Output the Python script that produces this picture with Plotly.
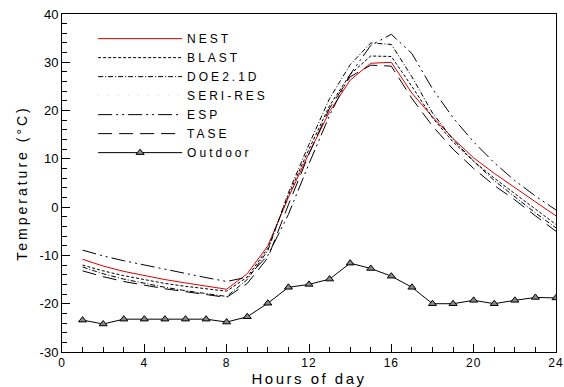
import plotly.graph_objects as go

hours = list(range(1, 25))
nest = [-10.8, -12.2, -13.3, -14.2, -15.0, -15.7, -16.4, -17.0, -13.8, -8.0, 2.0, 11.2,
        19.8, 26.3, 29.8, 30.0, 23.6, 18.7, 14.2, 10.2, 7.0, 4.0, 1.1, -1.8]
blast = [-12.0, -13.2, -14.2, -15.0, -15.8, -16.4, -16.9, -17.4, -14.5, -8.5, 2.5, 12.0,
         21.0, 27.5, 31.3, 31.2, 25.0, 18.5, 13.5, 9.5, 6.0, 2.8, -0.5, -3.6]
doe = [-12.4, -13.8, -14.9, -15.8, -16.6, -17.3, -17.9, -18.5, -15.0, -9.0, 3.0, 13.0,
       22.5, 29.5, 34.0, 33.7, 27.0, 19.5, 14.0, 9.5, 5.5, 2.2, -1.2, -4.3]
seri = [-12.8, -14.1, -15.2, -16.0, -16.8, -17.4, -18.0, -18.6, -15.3, -9.3, 2.0, 12.0,
        21.5, 28.5, 33.5, 33.5, 26.5, 19.5, 14.0, 9.5, 5.5, 2.0, -1.0, -4.0]
esp = [-8.9, -10.1, -11.1, -12.0, -12.9, -13.7, -14.6, -15.4, -14.5, -10.0, -1.5, 9.0,
       19.0, 27.5, 33.5, 35.8, 31.8, 24.5, 18.5, 13.5, 9.2, 5.5, 2.3, -0.6]
tase = [-13.2, -14.4, -15.4, -16.2, -16.9, -17.5, -18.1, -18.7, -15.8, -10.5, 0.5, 11.0,
        20.5, 27.0, 29.4, 29.2, 22.5, 16.8, 12.0, 8.0, 4.5, 1.5, -1.8, -5.0]
outdoor = [-23.4, -24.2, -23.2, -23.2, -23.2, -23.2, -23.2, -23.8, -22.7, -19.9, -16.6, -16.0,
           -14.9, -11.6, -12.7, -14.3, -16.6, -20.0, -20.0, -19.3, -20.0, -19.3, -18.7, -18.8]

x_ticks = [0, 4, 8, 12, 16, 20, 24]
y_ticks = [-30, -20, -10, 0, 10, 20, 30, 40]

series = [
    ("NEST", nest, dict(color="#e00000", width=1, dash="solid")),
    ("BLAST", blast, dict(color="black", width=1, dash="3px,2px")),
    ("DOE2.1D", doe, dict(color="black", width=1, dash="5px,2px,1px,2px")),
    ("SERI-RES", seri, dict(color="rgba(0,0,0,0.3)", width=0.6, dash="1px,9px")),
    ("ESP", esp, dict(color="black", width=1, dash="14px,4px,2px,4px,2px,4px")),
    ("TASE", tase, dict(color="black", width=1, dash="14px,7px")),
]

fig = go.Figure()
for name, vals, line in series:
    fig.add_trace(go.Scatter(x=hours, y=vals, mode="lines", name=name, line=line))
fig.add_trace(go.Scatter(x=hours, y=outdoor, mode="lines+markers", name="Outdoor",
                         line=dict(color="black", width=1),
                         marker=dict(symbol="triangle-up", size=7, color="#888888",
                                     line=dict(color="black", width=1))))

font = "Liberation Sans, Arial, sans-serif"
fig.update_layout(
    width=564, height=387,
    margin=dict(l=62, r=8, t=14, b=35, autoexpand=False),
    paper_bgcolor="white", plot_bgcolor="white",
    font=dict(family=font, size=13, color="black"),
    showlegend=True,
    legend=dict(x=0.063, y=0.97, xanchor="left", yanchor="top",
                bgcolor="rgba(0,0,0,0)", font=dict(size=12),
                tracegroupgap=0, itemwidth=84, traceorder="normal"),
    xaxis=dict(range=[0, 24], tickmode="array", tickvals=x_ticks,
               ticktext=[str(v) for v in x_ticks], ticklabeloverflow="allow",
               automargin=False,
               showgrid=False, zeroline=False,
               showline=True, linecolor="black", linewidth=1, mirror=True,
               ticks="inside", ticklen=8, tickcolor="black",
               minor=dict(dtick=1, tick0=0, ticks="inside", ticklen=5, tickcolor="black"),
               title=dict(text="Hours of day", font=dict(size=15), standoff=3),
               tickfont=dict(size=12)),
    yaxis=dict(range=[-30, 40], tickmode="array", tickvals=y_ticks,
               ticktext=[str(v) for v in y_ticks], ticklabeloverflow="allow",
               automargin=False,
               showgrid=False, zeroline=False,
               showline=True, linecolor="black", linewidth=1, mirror=True,
               ticks="inside", ticklen=8, tickcolor="black",
               minor=dict(dtick=2, tick0=0, ticks="inside", ticklen=5, tickcolor="black"),
               title=dict(text="Temperature (°C)", font=dict(size=14), standoff=8),
               tickfont=dict(size=13)),
)

css = (".legendtext{letter-spacing:3px}"
       ".legend .scrollbox{clip-path:none !important}"
       ".legend *{clip-path:none !important}"
       ".xtitle{letter-spacing:2.5px}"
       ".ytitle{letter-spacing:3px}"
       ".xtick text{letter-spacing:1px}")
post = ("var s=document.createElement('style');s.textContent='" + css + "';"
        "document.head.appendChild(s);")

fig.write_html("out.html", post_script=post)
